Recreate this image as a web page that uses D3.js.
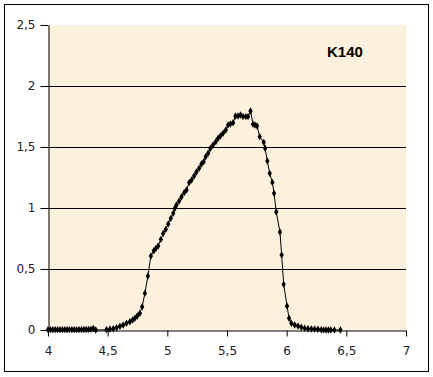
<!DOCTYPE html>
<html>
<head>
<meta charset="utf-8">
<script src="https://cdn.jsdelivr.net/npm/d3@7"></script>
<style>
  body { margin: 0; background: #fff; }
  svg { display: block; }
  .tick text { font-family: "DejaVu Sans", Verdana, sans-serif; font-size: 12px; fill: #222; }
</style>
</head>
<body>
<svg id="chart" width="433" height="377"></svg>
<script>
// readings (x, y)
const xValues = [
    4.00, 4.02, 4.04, 4.06, 4.08, 4.10, 4.12, 4.14, 4.16, 4.18,
    4.20, 4.22, 4.24, 4.26, 4.28, 4.30, 4.32, 4.34, 4.36, 4.38,
    4.40, 4.49, 4.519, 4.547, 4.575, 4.603, 4.630, 4.658, 4.686, 4.709,
    4.728, 4.748, 4.770, 4.789, 4.812, 4.837, 4.862, 4.887, 4.904, 4.923,
    4.946, 4.965, 4.987, 5.007, 5.029, 5.049, 5.063, 5.077, 5.099, 5.119,
    5.141, 5.161, 5.183, 5.203, 5.224, 5.244, 5.266, 5.286, 5.305, 5.322,
    5.342, 5.361, 5.383, 5.406, 5.425, 5.445, 5.467, 5.490, 5.509, 5.529,
    5.551, 5.571, 5.593, 5.613, 5.634, 5.657, 5.676, 5.697, 5.718, 5.735,
    5.752, 5.774, 5.808, 5.819, 5.838, 5.858, 5.880, 5.894, 5.913, 5.944,
    5.958, 5.975, 6.003, 6.020, 6.039, 6.067, 6.095, 6.123, 6.151, 6.179,
    6.207, 6.234, 6.262, 6.290, 6.31, 6.33, 6.35, 6.37, 6.40, 6.45
];
const yValues = [
    0.003, 0.003, 0.003, 0.003, 0.003, 0.003, 0.003, 0.003, 0.003, 0.003,
    0.003, 0.003, 0.003, 0.003, 0.003, 0.004, 0.004, 0.005, 0.006, 0.012,
    0.000, 0.002, 0.008, 0.011, 0.019, 0.030, 0.041, 0.055, 0.068, 0.082,
    0.096, 0.115, 0.137, 0.191, 0.301, 0.443, 0.607, 0.650, 0.669, 0.689,
    0.743, 0.792, 0.825, 0.869, 0.915, 0.956, 0.997, 1.025, 1.057, 1.093,
    1.126, 1.148, 1.208, 1.230, 1.262, 1.295, 1.325, 1.361, 1.380, 1.421,
    1.448, 1.489, 1.516, 1.544, 1.571, 1.590, 1.612, 1.639, 1.680, 1.689,
    1.699, 1.754, 1.754, 1.762, 1.749, 1.749, 1.749, 1.795, 1.686, 1.680,
    1.672, 1.585, 1.538, 1.489, 1.385, 1.284, 1.210, 1.120, 0.967, 0.803,
    0.615, 0.374, 0.197, 0.096, 0.055, 0.041, 0.033, 0.022, 0.014, 0.011,
    0.008, 0.008, 0.006, 0.002, 0.001, 0.000, 0.000, 0.000, 0.000, 0.000
];
const xTicks = [4, 4.5, 5, 5.5, 6, 6.5, 7];
const yTicks = [0, 0.5, 1, 1.5, 2, 2.5];
const seriesName = 'K140';

const svg = d3.select('#chart');
const margin = { left: 48, right: 27, top: 25, bottom: 47 };
const width = 433 - margin.left - margin.right;
const height = 377 - margin.top - margin.bottom;

const x = d3.scaleLinear().domain([4, 7]).range([margin.left, margin.left + width]);
const y = d3.scaleLinear().domain([0, 2.5]).range([margin.top + height, margin.top]);

const fmt = (d) => String(d).replace('.', ',');

// outer frame
svg.append('rect')
    .attr('x', 4.5).attr('y', 4.5)
    .attr('width', 424).attr('height', 367)
    .attr('fill', '#fff').attr('stroke', '#000');

// plot area
svg.append('rect')
    .attr('x', x(4)).attr('y', y(2.5))
    .attr('width', x(7) - x(4)).attr('height', y(0) - y(2.5))
    .attr('fill', '#fcf1dd');

// gridlines
svg.append('g')
    .selectAll('line')
    .data(yTicks.filter((d) => d > 0 && d < 2.5))
    .enter().append('line')
    .attr('x1', x(4)).attr('x2', x(7))
    .attr('y1', (d) => Math.round(y(d)) + 0.5)
    .attr('y2', (d) => Math.round(y(d)) + 0.5)
    .attr('stroke', '#000');

// axes
svg.append('g')
    .attr('transform', `translate(0,${Math.round(y(0)) + 0.5})`)
    .call(d3.axisBottom(x).tickValues(xTicks).tickFormat(fmt).tickSize(6).tickPadding(10).tickSizeOuter(0))
    .call((g) => g.selectAll('line, path').attr('stroke', '#000'));

svg.append('g')
    .attr('transform', `translate(${Math.round(x(4)) + 0.5},0)`)
    .call(d3.axisLeft(y).tickValues(yTicks).tickFormat(fmt).tickSize(8).tickPadding(5).tickSizeOuter(0))
    .call((g) => g.selectAll('line, path').attr('stroke', '#000'));

// curve
const points = xValues.map((d, i) => ({ x: d, y: yValues[i] }));

const line = d3.line().x((d) => x(d.x)).y((d) => y(d.y));

svg.append('path')
    .datum(points)
    .attr('d', line)
    .attr('fill', 'none')
    .attr('stroke', '#000')
    .attr('stroke-width', 1);

svg.append('g')
    .selectAll('path')
    .data(points)
    .enter().append('path')
    .attr('transform', (d) => `translate(${x(d.x)},${y(d.y)})`)
    .attr('d', d3.symbol().type(d3.symbolDiamond).size(16))
    .attr('fill', '#000');

// label
svg.append('text')
    .attr('x', 327).attr('y', 57)
    .attr('font-family', '"Liberation Sans", Arial, sans-serif')
    .attr('font-size', 15)
    .attr('font-weight', 'bold')
    .text(seriesName);
</script>
</body>
</html>
